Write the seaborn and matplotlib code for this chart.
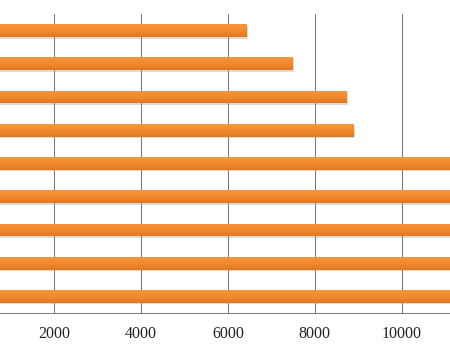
import matplotlib
matplotlib.use("Agg")
import matplotlib.pyplot as plt
import matplotlib.patheffects as pe
from matplotlib.colors import LinearSegmentedColormap
import numpy as np
import seaborn as sns
import pandas as pd

# categories (labels are cropped out of the reference) and bar lengths
categories = ["c1", "c2", "c3", "c4", "c5", "c6", "c7", "c8", "c9"]
values = [6440, 7490, 8735, 8895, 12000, 12000, 12000, 12000, 12000]
x_ticks = [2000, 4000, 6000, 8000, 10000]

df = pd.DataFrame({"cat": categories, "val": values})

sns.set_style("white")
plt.rcParams["font.family"] = ["Liberation Serif", "DejaVu Serif"]

fig = plt.figure(figsize=(4.5, 3.57), dpi=100)
ax = fig.add_axes([0, 0.123, 1, 0.838])

sns.barplot(data=df, x="val", y="cat", orient="h", color="#F28A2E",
            saturation=1, width=0.38, ax=ax, zorder=3)

# soft shadow + vertical shading like the office-style bars
shade = LinearSegmentedColormap.from_list("bar", ["#F7963A", "#F28A2E", "#E07822"])
grad = np.linspace(0, 1, 64).reshape(-1, 1)
for p in ax.patches:
    p.set_linewidth(0)
    p.set_path_effects([pe.SimplePatchShadow(offset=(0.6, -1.2), shadow_rgbFace="#9a9a9a", alpha=0.35),
                        pe.Normal()])
    x0, y0 = p.get_x(), p.get_y()
    w, h = p.get_width(), p.get_height()
    # y axis is inverted, so list the extent top-to-bottom on screen
    im = ax.imshow(grad[::-1], cmap=shade, aspect="auto", zorder=4,
                   extent=(x0, x0 + w, y0, y0 + h), origin="upper")
    im.set_clip_path(p)

ax.set_xlim(750, 11112)
ax.set_ylim(len(categories) - 0.5, -0.5)
ax.set_xticks(x_ticks)
ax.set_xticklabels([str(t) for t in x_ticks], fontsize=11.5, color="#222222")
ax.tick_params(axis="x", length=3, width=0.75, color="#808080", pad=6)
ax.set_yticks([])
ax.set_xlabel("")
ax.set_ylabel("")
ax.grid(axis="x", color="#7a7a7a", linewidth=0.75)
ax.set_axisbelow(True)
for s in ["top", "right", "left"]:
    ax.spines[s].set_visible(False)
ax.spines["bottom"].set_color("#808080")
ax.spines["bottom"].set_linewidth(0.75)

fig.savefig("out.png", dpi=100)
